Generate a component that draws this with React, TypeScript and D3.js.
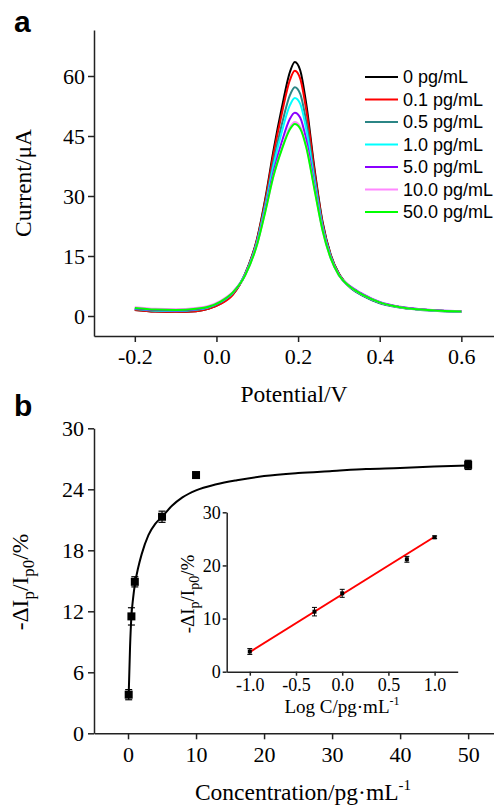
import React, { useEffect, useRef } from 'react';
import * as d3 from 'd3';

const W = 494;
const H = 806;
const serif = '"Liberation Serif", "Times New Roman", serif';
const sans = '"Liberation Sans", Arial, sans-serif';

// panel a: DPV curves
const potentials = [-0.2, -0.15, -0.1, -0.05, -0.02, 0.01, 0.04, 0.07, 0.1, 0.12, 0.14, 0.16, 0.18, 0.192, 0.205, 0.22, 0.24, 0.26, 0.28, 0.3, 0.33, 0.36, 0.4, 0.45, 0.5, 0.55, 0.6];
const seriesNames = ['0 pg/mL', '0.1 pg/mL', '0.5 pg/mL', '1.0 pg/mL', '5.0 pg/mL', '10.0 pg/mL', '50.0 pg/mL'];
const seriesColors = ['#000000', '#ff0000', '#2b8585', '#00ffff', '#8a00ff', '#ff88ff', '#00ff00'];
const cur0 = [1.5, 1.1, 1.0, 1.2, 1.8, 3.1, 5.4, 10.5, 19.5, 29.5, 41.5, 52, 61, 63.5, 61.5, 53, 37, 23.5, 15.3, 10.6, 7, 5.1, 3.3, 2.2, 1.6, 1.3, 1.1];
const cur01 = [1.5, 1.1, 1.0, 1.2, 1.8, 3.0, 5.3, 10.4, 19.3, 29.0, 40.6, 50.5, 59.0, 61.3, 59.4, 51.5, 36.3, 23.2, 15.2, 10.5, 7, 5.1, 3.3, 2.2, 1.6, 1.3, 1.1];
const cur05 = [1.7, 1.3, 1.2, 1.5, 2.1, 3.4, 5.7, 10.3, 18.9, 28.1, 38.8, 47.8, 55.2, 57.2, 55.6, 48.6, 34.9, 22.6, 14.9, 10.4, 6.9, 5.0, 3.2, 2.1, 1.5, 1.2, 1.0];
const cur1 = [1.8, 1.4, 1.3, 1.6, 2.2, 3.5, 5.8, 10.3, 18.7, 27.6, 37.7, 46.0, 52.7, 54.5, 53.1, 46.7, 33.9, 22.3, 14.8, 10.3, 7.1, 5.2, 3.4, 2.2, 1.6, 1.3, 1.1];
const cur5 = [1.9, 1.5, 1.4, 1.7, 2.3, 3.6, 5.9, 10.2, 18.3, 26.8, 36.1, 43.5, 49.3, 50.8, 49.6, 44.1, 32.7, 21.8, 14.6, 10.2, 7.3, 5.4, 3.5, 2.3, 1.7, 1.4, 1.2];
const cur10 = [2.2, 1.8, 1.7, 2.0, 2.5, 3.8, 6.0, 10.1, 18.1, 26.3, 35.1, 41.9, 47.2, 48.5, 47.4, 42.5, 31.9, 21.4, 14.4, 10.2, 7.1, 5.2, 3.4, 2.2, 1.6, 1.3, 1.1];
const cur50 = [2.0, 1.6, 1.5, 1.8, 2.3, 3.6, 5.9, 10.1, 18.0, 26.2, 35.1, 41.6, 46.7, 48.0, 46.9, 42.2, 31.7, 21.4, 14.4, 10.2, 7.1, 5.2, 3.4, 2.2, 1.6, 1.3, 1.1];
const currents = [cur0, cur01, cur05, cur1, cur5, cur10, cur50];

const aXTicks = [-0.2, 0, 0.2, 0.4, 0.6];
const aYTicks = [0, 15, 30, 45, 60];

// panel b: calibration
const concentrations = [0.1, 0.5, 1, 5, 10, 50];
const responses = [3.8, 11.5, 14.9, 21.3, 25.4, 26.4];
const responseErr = [0.5, 0.85, 0.5, 0.55, 0.3, 0.45];
const fitConc = [0.1, 0.3, 0.5, 0.75, 1, 1.5, 2, 3, 4, 5, 6.5, 8, 10, 13, 16, 20, 25, 30, 35, 40, 45, 50];
const fitResp = [3.8, 8.5, 11.5, 13.3, 14.6, 16.3, 17.6, 19.5, 20.6, 21.3, 22.4, 23.2, 23.9, 24.5, 24.9, 25.3, 25.6, 25.8, 26.0, 26.1, 26.25, 26.35];
const bXTicks = [0, 10, 20, 30, 40, 50];
const bYTicks = [0, 6, 12, 18, 24, 30];

// inset
const logConc = [-1, -0.3, 0, 0.7, 1];
const logResp = [3.8, 11.3, 14.75, 21.15, 25.3];
const logErr = [0.55, 0.8, 0.75, 0.55, 0.25];
const linFitX = [-1, 1];
const linFitY = [3.7, 25.4];
const insetXTicks = [-1, -0.5, 0, 0.5, 1];
const insetYTicks = [0, 10, 20, 30];

const xA = d3.scaleLinear().domain([-0.3, 0.68]).range([94, 494]);
const yA = d3.scaleLinear().domain([-5, 71.5]).range([336, 30]);
const xB = d3.scaleLinear().domain([-5, 53.8]).range([94, 494]);
const yB = d3.scaleLinear().domain([0, 30]).range([733.3, 428.3]);
const xI = d3.scaleLinear().domain([-1.25, 1.25]).range([226.7, 457.7]);
const yI = d3.scaleLinear().domain([0, 30]).range([671.7, 512.3]);

export default function App() {
    const ref = useRef<SVGSVGElement>(null);

    useEffect(() => {
        const svg = d3.select(ref.current);

        const style = (g: any, size: number) => {
            g.attr('font-family', serif).attr('font-size', size);
            g.select('.domain').attr('stroke', '#222').attr('stroke-width', 1.5);
            g.selectAll('.tick line').attr('stroke', '#222').attr('stroke-width', 1.5);
            g.selectAll('.tick text').attr('fill', '#000').attr('font-family', serif);
        };

        svg.select<SVGGElement>('g.ax-a-x').attr('transform', 'translate(0,336)')
            .call(d3.axisBottom(xA).tickValues(aXTicks).tickFormat((d: any) => d.toFixed(1)).tickSize(6).tickSizeOuter(0).tickPadding(6))
            .call(g => style(g, 22));
        svg.select<SVGGElement>('g.ax-a-y').attr('transform', 'translate(94,0)')
            .call(d3.axisLeft(yA).tickValues(aYTicks).tickFormat((d: any) => String(d)).tickSize(6).tickSizeOuter(0).tickPadding(3))
            .call(g => style(g, 22));

        svg.select<SVGGElement>('g.ax-b-x').attr('transform', 'translate(0,733.3)')
            .call(d3.axisBottom(xB).tickValues(bXTicks).tickFormat((d: any) => String(d)).tickSize(6).tickSizeOuter(0).tickPadding(7))
            .call(g => style(g, 22));
        svg.select<SVGGElement>('g.ax-b-y').attr('transform', 'translate(94,0)')
            .call(d3.axisLeft(yB).tickValues(bYTicks).tickFormat((d: any) => String(d)).tickSize(6).tickSizeOuter(0).tickPadding(4))
            .call(g => style(g, 22));

        svg.select<SVGGElement>('g.ax-i-x').attr('transform', 'translate(0,671.7)')
            .call(d3.axisBottom(xI).tickValues(insetXTicks).tickFormat((d: any) => d.toFixed(1)).tickSize(4).tickSizeOuter(0).tickPadding(3))
            .call(g => style(g, 18));
        svg.select<SVGGElement>('g.ax-i-y').attr('transform', 'translate(226.7,0)')
            .call(d3.axisLeft(yI).tickValues(insetYTicks).tickFormat((d: any) => String(d)).tickSize(4).tickSizeOuter(0).tickPadding(2))
            .call(g => style(g, 18));
    }, []);

    const lineA = d3.line<number>()
        .x((_, i) => xA(potentials[i]))
        .y(d => yA(d))
        .curve(d3.curveMonotoneX);

    const fitB = d3.line<number>()
        .x((_, i) => xB(fitConc[i]))
        .y(d => yB(d))
        .curve(d3.curveMonotoneX);

    const fitI = d3.line<number>()
        .x((_, i) => xI(linFitX[i]))
        .y(d => yI(d));

    return (
        <svg ref={ref} width={W} height={H} style={{ position: 'absolute', left: 0, top: 0, background: '#fff' }}>
            {/* panel a */}
            <text x={14} y={32} fontFamily={sans} fontWeight="bold" fontSize={30}>a</text>
            <g className="curves">
                {currents.map((c, i) => (
                    <path key={i} d={lineA(c) || ''} fill="none" stroke={seriesColors[i]} strokeWidth={2} />
                ))}
            </g>
            <g className="ax-a-x" />
            <g className="ax-a-y" />
            <g className="legend">
                {seriesNames.map((n, i) => (
                    <g key={n} transform={`translate(365,${77 + i * 22.5})`}>
                        <line x1={0} x2={33} y1={0} y2={0} stroke={seriesColors[i]} strokeWidth={2} />
                        <text x={38} y={6} fontFamily={sans} fontSize={18}>{n}</text>
                    </g>
                ))}
            </g>
            <text transform="translate(31,183) rotate(-90)" textAnchor="middle" fontFamily={serif} fontSize={23.5}>Current/μA</text>
            <text x={294} y={402} textAnchor="middle" fontFamily={serif} fontSize={23.5}>Potential/V</text>

            {/* panel b */}
            <text x={14} y={416} fontFamily={sans} fontWeight="bold" fontSize={30}>b</text>
            <path d={fitB(fitResp) || ''} fill="none" stroke="#000" strokeWidth={2} />
            <g className="points-b">
                {concentrations.map((c, i) => {
                    const x = xB(c);
                    const y0 = yB(responses[i] - responseErr[i]);
                    const y1 = yB(responses[i] + responseErr[i]);
                    return (
                        <g key={c}>
                            <line x1={x} x2={x} y1={y0} y2={y1} stroke="#000" strokeWidth={1.2} />
                            <line x1={x - 3.5} x2={x + 3.5} y1={y0} y2={y0} stroke="#000" strokeWidth={1.2} />
                            <line x1={x - 3.5} x2={x + 3.5} y1={y1} y2={y1} stroke="#000" strokeWidth={1.2} />
                            <rect x={x - 4} y={yB(responses[i]) - 4} width={8} height={8} fill="#000" />
                        </g>
                    );
                })}
            </g>
            <g className="ax-b-x" />
            <g className="ax-b-y" />
            <text transform="translate(28,582) rotate(-90)" textAnchor="middle" fontFamily={serif} fontSize={23.5}>
                -ΔI<tspan dy={6} fontSize={17}>p</tspan><tspan dy={-6}>/I</tspan><tspan dy={6} fontSize={17}>p0</tspan><tspan dy={-6}>/%</tspan>
            </text>
            <text x={303} y={800} textAnchor="middle" fontFamily={serif} fontSize={23.5}>
                Concentration/pg·mL<tspan dy={-10} fontSize={15}>-1</tspan>
            </text>

            {/* inset */}
            <path d={fitI(linFitY) || ''} fill="none" stroke="#ff0000" strokeWidth={2} />
            <g className="points-i">
                {logConc.map((c, i) => {
                    const x = xI(c);
                    const y0 = yI(logResp[i] - logErr[i]);
                    const y1 = yI(logResp[i] + logErr[i]);
                    return (
                        <g key={c}>
                            <line x1={x} x2={x} y1={y0} y2={y1} stroke="#000" strokeWidth={1} />
                            <line x1={x - 2.5} x2={x + 2.5} y1={y0} y2={y0} stroke="#000" strokeWidth={1} />
                            <line x1={x - 2.5} x2={x + 2.5} y1={y1} y2={y1} stroke="#000" strokeWidth={1} />
                            <rect x={x - 2} y={yI(logResp[i]) - 2} width={4} height={4} fill="#000" />
                        </g>
                    );
                })}
            </g>
            <g className="ax-i-x" />
            <g className="ax-i-y" />
            <text transform="translate(194,594) rotate(-90)" textAnchor="middle" fontFamily={serif} fontSize={19}>
                -ΔI<tspan dy={5} fontSize={14}>p</tspan><tspan dy={-5}>/I</tspan><tspan dy={5} fontSize={14}>p0</tspan><tspan dy={-5}>/%</tspan>
            </text>
            <text x={342} y={713} textAnchor="middle" fontFamily={serif} fontSize={19}>
                Log C/pg·mL<tspan dy={-8} fontSize={12}>-1</tspan>
            </text>
        </svg>
    );
}
